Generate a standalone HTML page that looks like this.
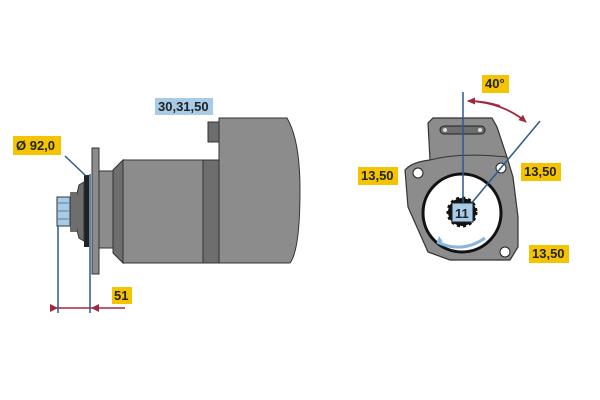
<!DOCTYPE html>
<html><head><meta charset="utf-8"><style>
html,body{margin:0;padding:0;background:#fff;}
svg{display:block}
text{font-family:"Liberation Sans",sans-serif;font-weight:bold;font-size:13px;fill:#222}
</style></head><body>
<svg width="600" height="400" viewBox="0 0 600 400" xmlns="http://www.w3.org/2000/svg">
<defs>
<marker id="ar" markerUnits="userSpaceOnUse" markerWidth="8" markerHeight="8" refX="7" refY="4" orient="auto"><path d="M0,0.5 L8,4 L0,7.5 z" fill="#a0283c"/></marker>
</defs>
<path d="M219,118 L287,118 Q300,140 300,190 Q300,250 290,263 L219,263 z" fill="#8c8c8c" stroke="#333" stroke-width="1"/>
<rect x="208" y="122" width="11" height="20" fill="#6e6e6e" stroke="#333" stroke-width="1"/>
<rect x="203" y="160" width="16" height="103" fill="#6e6e6e" stroke="#333" stroke-width="1"/>
<rect x="123" y="160" width="80" height="103" fill="#8c8c8c" stroke="#333" stroke-width="1"/>
<path d="M113,170 L123,160 L123,263 L113,253 z" fill="#6e6e6e" stroke="#333" stroke-width="1"/>
<rect x="99" y="171" width="14" height="77" fill="#8c8c8c" stroke="#333" stroke-width="1"/>
<rect x="92" y="148" width="7" height="126" fill="#8c8c8c" stroke="#333" stroke-width="1"/>
<rect x="84" y="175" width="5" height="72" fill="#222"/>
<path d="M84,182 L79,185 L76,198 L76,226 L79,238 L84,241 z" fill="#6e6e6e" stroke="#333" stroke-width="1"/>
<rect x="70" y="192" width="7" height="40" fill="#6e6e6e"/>
<rect x="57" y="197" width="13" height="29" fill="#a8cce8" stroke="#333" stroke-width="1"/>
<line x1="57" y1="203" x2="70" y2="203" stroke="#5a7fa0"/><line x1="57" y1="211" x2="70" y2="211" stroke="#5a7fa0"/><line x1="57" y1="219" x2="70" y2="219" stroke="#5a7fa0"/>
<line x1="50" y1="308" x2="125" y2="308" stroke="#a0283c" stroke-width="1.5"/>
<path d="M50,304 L58,308 L50,312 z" fill="#a0283c"/>
<path d="M99,304 L91,308 L99,312 z" fill="#a0283c"/>
<line x1="58" y1="226" x2="58" y2="313" stroke="#2a5a8c" stroke-width="1.5"/>
<line x1="90" y1="174" x2="90" y2="313" stroke="#2a5a8c" stroke-width="1.5"/>
<line x1="65" y1="156" x2="86" y2="176" stroke="#2a5a8c" stroke-width="1.5"/>
<rect x="13" y="136" width="48" height="19" fill="#f5c400"/>
<text x="16" y="150">Ø 92,0</text>
<rect x="155" y="98" width="58" height="17" fill="#a8cce8"/>
<text x="158" y="111">30,31,50</text>
<rect x="112" y="287" width="20" height="17" fill="#f5c400"/>
<text x="114" y="300">51</text>
<path d="M430,160 L428,123 L433,118 L492,118 L497,127 L507,157 L513,177 L518,217 L518,247 L510,260 L450,260 L428,252 L408,207 L405,170 Q412,162 430,160 z" fill="#8c8c8c" stroke="#333" stroke-width="1.2"/>
<path d="M430,160 Q460,152 507,157" fill="none" stroke="#333" stroke-width="1"/>
<rect x="440" y="126" width="45" height="8" rx="4" fill="#6e6e6e" stroke="#222"/>
<circle cx="445" cy="130" r="2" fill="#ddd"/><circle cx="480" cy="130" r="2" fill="#ddd"/>
<circle cx="418" cy="173" r="5" fill="#fff" stroke="#222"/>
<circle cx="501" cy="168" r="5" fill="#fff" stroke="#222"/>
<circle cx="505" cy="252" r="5" fill="#fff" stroke="#222"/>
<circle cx="462" cy="213" r="39" fill="#fff" stroke="#111" stroke-width="3"/>
<circle cx="462" cy="212" r="14" fill="#111" stroke="#111" stroke-width="3" stroke-dasharray="3 3"/>
<circle cx="462" cy="212" r="12" fill="#111"/>
<path d="M437,242 Q462,254 485,238" fill="none" stroke="#8ab4d8" stroke-width="3"/>
<path d="M437,242 l2,-6 l4,6 z" fill="#8ab4d8"/>
<line x1="463" y1="92" x2="463" y2="205" stroke="#2a5a8c" stroke-width="1.5"/>
<line x1="540" y1="121" x2="470" y2="205" stroke="#2a5a8c" stroke-width="1.5"/>
<rect x="452" y="203" width="21" height="19" fill="#a8cce8" stroke="#222"/>
<text x="455" y="218">11</text>
<path d="M472,101 Q505,104 526,122" fill="none" stroke="#a0283c" stroke-width="1.8" marker-end="url(#ar)"/>
<path d="M500,106 Q485,101 468,101" fill="none" stroke="#a0283c" stroke-width="1.8" marker-end="url(#ar)"/>
<rect x="482" y="75" width="27" height="18" fill="#f5c400"/>
<text x="485" y="88">40°</text>
<rect x="358" y="167" width="40" height="18" fill="#f5c400"/>
<text x="361" y="180">13,50</text>
<rect x="521" y="163" width="40" height="18" fill="#f5c400"/>
<text x="524" y="176">13,50</text>
<rect x="529" y="245" width="40" height="18" fill="#f5c400"/>
<text x="532" y="258">13,50</text>
</svg>
</body></html>
